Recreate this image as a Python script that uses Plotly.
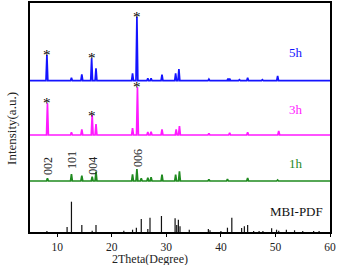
import plotly.graph_objects as go

# ---- data (intensity in arbitrary units, offset per pattern) ----
x_min, x_max = 5, 60

pos_5h = [8.1, 12.6, 14.5, 16.3, 17.1, 23.8, 24.6, 26.6, 27.2, 29.2, 31.7, 32.3, 37.8, 41.3, 41.6, 43.4, 44.9, 47.6, 50.4]
int_5h = [25.7, 3, 6.4, 22.4, 12.4, 7.4, 64, 2.5, 2.5, 6, 7.4, 11.7, 1.5, 2, 2, 1, 3, 1, 4.7]
base_5h = 151.3

pos_3h = [8.2, 12.6, 14.5, 16.4, 17.1, 23.8, 24.7, 26.6, 27.2, 29.2, 31.8, 32.4, 37.8, 41.6, 44.9, 50.6]
int_3h = [31.7, 2.7, 5.7, 20, 11, 7, 47.7, 3, 3.3, 5.7, 5.7, 9, 1.7, 2.3, 2.7, 4]
base_3h = 97

pos_1h = [8.2, 12.6, 14.5, 16.4, 17.1, 23.8, 24.6, 25.4, 26.6, 27.2, 29.2, 31.7, 32.4, 37.8, 41.2, 44.9, 50.4]
int_1h = [2.7, 7, 5.3, 4.3, 9.3, 6.7, 12, 2.7, 3.3, 3.7, 6.3, 6.3, 9.7, 1.7, 2, 3, 1]
base_1h = 51

pos_pdf = [8.1, 11.8, 12.6, 14.5, 16.4, 17.1, 22.2, 23.8, 24.5, 25.4, 26.6, 27.0, 29.1, 31.6, 31.9, 32.2, 32.5,
           34.2, 37.7, 38.0, 40.0, 41.2, 42.0, 43.8, 44.3, 44.9, 46.0, 47.0, 47.7, 49.3, 50.2, 50.6, 52.0,
           53.5, 55.0, 57.0, 58.0]
int_pdf = [1, 5, 30.3, 7, 1.3, 7, 1.3, 2.3, 4.3, 13, 3, 14.3, 16, 13.7, 7, 12.3, 5.7,
           2.3, 3, 1.7, 1, 4.3, 14.3, 4, 5.7, 7, 1, 1, 1, 3.7, 2.3, 1.3, 2.3,
           1.7, 1, 1, 1]

star_5h = [8.1, 16.3, 24.6]
star_5h_y = [180, 177, 218]
star_3h = [8.2, 16.4, 24.7]
star_3h_y = [132, 119, 148]

hkl_labels = ["002", "101", "004", "006"]
hkl_x = [8.3, 12.7, 16.5, 24.8]
hkl_y = [66, 72, 66, 74]

series_names = ["5h", "3h", "1h", "MBI-PDF"]
series_label_y = [180, 123, 69, 21]
x_ticks = [10, 20, 30, 40, 50, 60]

HW = 0.17


def profile(pos, inten, base):
    xs, ys = [x_min], [base]
    for p, h in sorted(zip(pos, inten)):
        xs += [p - HW, p, p + HW]
        ys += [base, base + h, base]
    xs.append(x_max)
    ys.append(base)
    return xs, ys


def sticks(pos, inten):
    xs, ys = [], []
    for p, h in zip(pos, inten):
        xs += [p, p, None]
        ys += [0, h, None]
    return xs, ys


fig = go.Figure()
colors = {"5h": "#1414ff", "3h": "#ff1aff", "1h": "#1f8a1f", "MBI-PDF": "#111111"}
for name, (p, i, b) in zip(["5h", "3h", "1h"], [(pos_5h, int_5h, base_5h), (pos_3h, int_3h, base_3h), (pos_1h, int_1h, base_1h)]):
    xs, ys = profile(p, i, b)
    fig.add_trace(go.Scatter(x=xs, y=ys, mode="lines", line=dict(color=colors[name], width=1.7),
                             showlegend=False, hoverinfo="skip"))
xs, ys = sticks(pos_pdf, int_pdf)
fig.add_trace(go.Scatter(x=xs, y=ys, mode="lines", line=dict(color=colors["MBI-PDF"], width=1.2),
                         showlegend=False, hoverinfo="skip"))

serif = "Liberation Serif, Times New Roman, serif"
ann = []
for name, yy in zip(series_names, series_label_y):
    ann.append(dict(x=53.8, y=yy, text=name, showarrow=False, xanchor="center", yanchor="middle",
                    font=dict(family=serif, size=13, color=colors[name])))
for sx, sy in list(zip(star_5h, star_5h_y)) + list(zip(star_3h, star_3h_y)):
    ann.append(dict(x=sx, y=sy, text="*", showarrow=False, xanchor="center", yanchor="middle",
                    font=dict(family=serif, size=15, color="black"), yshift=-3))
for t, hx, hy in zip(hkl_labels, hkl_x, hkl_y):
    ann.append(dict(x=hx, y=hy, text=t, showarrow=False, textangle=-90, xanchor="center", yanchor="middle",
                    font=dict(family=serif, size=12, color="#222")))
ann.append(dict(xref="paper", yref="paper", x=-0.06, y=0.45, text="Intensity(a.u.)", showarrow=False,
                textangle=-90, xanchor="center", yanchor="middle", font=dict(family=serif, size=13, color="#222")))
ann.append(dict(xref="paper", yref="paper", x=0.4, y=-0.118, text="2Theta(Degree)", showarrow=False,
                xanchor="center", yanchor="middle", font=dict(family=serif, size=12, color="#222")))

fig.update_layout(
    width=345, height=265,
    margin=dict(l=30, r=15, t=3, b=33),
    paper_bgcolor="white", plot_bgcolor="white",
    annotations=ann,
    xaxis=dict(range=[x_min, x_max], tickvals=x_ticks, ticks="outside", ticklen=3, tickwidth=1,
               tickcolor="black", showline=True, linecolor="black", linewidth=1.5, mirror=True,
               showgrid=False, zeroline=False, automargin=False,
               tickfont=dict(family=serif, size=11.5, color="#222")),
    yaxis=dict(range=[0, 229], showticklabels=False, ticks="", showline=True, linecolor="black",
               linewidth=1.5, mirror=True, showgrid=False, zeroline=False, automargin=False),
)

fig.write_html("out.html", config={"displayModeBar": False},
               post_script="document.body.style.margin='0';document.body.style.overflow='hidden';")
